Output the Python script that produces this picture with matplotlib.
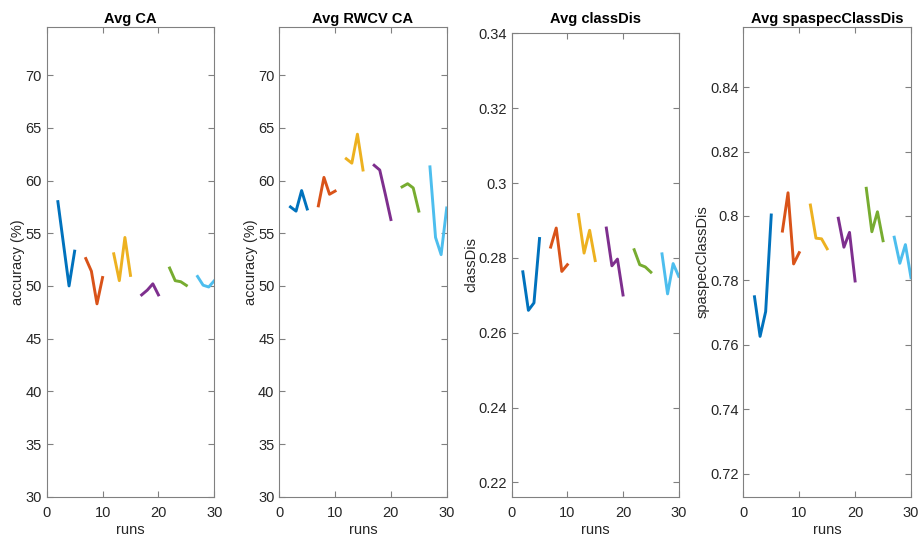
import matplotlib
matplotlib.use("Agg")
import matplotlib.pyplot as plt
from matplotlib.ticker import FormatStrFormatter

plt.rcParams["font.family"] = ["Liberation Sans", "DejaVu Sans"]

# runs for each group of 4 experiments
run_groups = [
    [2, 3, 4, 5],
    [7, 8, 9, 10],
    [12, 13, 14, 15],
    [17, 18, 19, 20],
    [22, 23, 24, 25],
    [27, 28, 29, 30],
]

avg_ca = [
    [58.0, 54.0, 50.0, 53.3],
    [52.6, 51.4, 48.3, 50.8],
    [53.05, 50.5, 54.6, 51.0],
    [49.15, 49.6, 50.2, 49.15],
    [51.7, 50.5, 50.4, 50.05],
    [50.9, 50.07, 49.9, 50.5],
]

avg_rwcv_ca = [
    [57.5, 57.1, 59.05, 57.3],
    [57.6, 60.3, 58.7, 59.0],
    [62.07, 61.65, 64.4, 61.0],
    [61.45, 61.0, 58.7, 56.3],
    [59.4, 59.7, 59.3, 57.1],
    [61.3, 54.6, 52.97, 57.4],
]

avg_classdis = [
    [0.2763, 0.2660, 0.2680, 0.2852],
    [0.2829, 0.2880, 0.2764, 0.2782],
    [0.2916, 0.2813, 0.2874, 0.2793],
    [0.2880, 0.2779, 0.2797, 0.2701],
    [0.2822, 0.2782, 0.2776, 0.2762],
    [0.2811, 0.2704, 0.2785, 0.2751],
]

avg_spaspec = [
    [0.7749, 0.7626, 0.7703, 0.8003],
    [0.7953, 0.8072, 0.7851, 0.7886],
    [0.8034, 0.7931, 0.7929, 0.7898],
    [0.7993, 0.7903, 0.7949, 0.7798],
    [0.8086, 0.7951, 0.8013, 0.7923],
    [0.7934, 0.7853, 0.7911, 0.7808],
]

colors = ["#0072BD", "#D95319", "#EDB120", "#7E2F8E", "#77AC30", "#4DBEEE"]

panels = [
    ("Avg CA", "accuracy (%)", avg_ca, (30, 74.6), list(range(30, 71, 5))),
    ("Avg RWCV CA", "accuracy (%)", avg_rwcv_ca, (30, 74.6), list(range(30, 71, 5))),
    ("Avg classDis", "classDis", avg_classdis, (0.2162, 0.3402),
     [0.22, 0.24, 0.26, 0.28, 0.30, 0.32, 0.34]),
    ("Avg spaspecClassDis", "spaspecClassDis", avg_spaspec, (0.7128, 0.8586),
     [0.72, 0.74, 0.76, 0.78, 0.80, 0.82, 0.84]),
]

# axes boxes in pixels: left, right, top (bottom is shared)
W, H = 922, 537
boxes = [(46.7, 214.3, 26.7), (279.3, 446.7, 26.7), (511.7, 678.7, 32.7), (743.3, 911.0, 27.3)]
bottom_px = 496.7

fig = plt.figure(figsize=(W / 100, H / 100), dpi=100)

text_col = "#262626"
axis_col = "#808080"

for (title, ylabel, data, ylim, yticks), (l, r, t) in zip(panels, boxes):
    ax = fig.add_axes([l / W, (H - bottom_px) / H, (r - l) / W, (bottom_px - t) / H])
    for runs, vals, c in zip(run_groups, data, colors):
        ax.plot(runs, vals, color=c, linewidth=2.1)
    ax.set_xlim(0, 30)
    ax.set_ylim(*ylim)
    ax.set_xticks([0, 10, 20, 30])
    ax.set_yticks(yticks)
    ax.yaxis.set_major_formatter(FormatStrFormatter("%g"))
    ax.tick_params(direction="in", length=4, width=0.8, colors=axis_col,
                   labelcolor=text_col, labelsize=10.5, top=True, right=True)
    ax.tick_params(axis="x", pad=6.5)
    for s in ax.spines.values():
        s.set_color(axis_col)
        s.set_linewidth(0.8)
    ax.set_xlabel("runs", fontsize=10.5, color=text_col, labelpad=2)
    ax.set_ylabel(ylabel, fontsize=10.5, color=text_col, labelpad=0)
    fig.text((l + r) / 2 / W, 1 - 18.5 / H, title, fontsize=10.5, fontweight="bold",
             color="black", ha="center", va="center")

fig.savefig("out.png", dpi=100)
